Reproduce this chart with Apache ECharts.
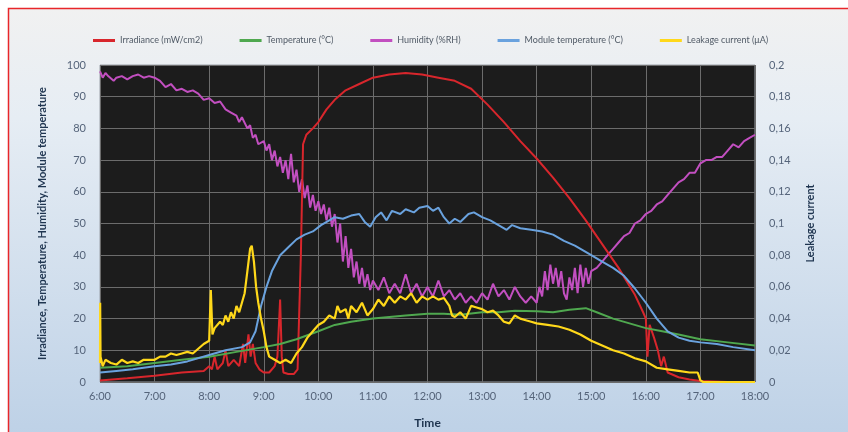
<!DOCTYPE html>
<html><head><meta charset="utf-8">
<script src="https://cdn.jsdelivr.net/npm/echarts@6/dist/echarts.min.js"></script>
<style>html,body{margin:0;padding:0;background:#fff}#c{width:848px;height:432px}</style>
</head><body><div id="c"></div>
<script>
// Time axis ticks (hours)
const hourTicks = [6,7,8,9,10,11,12,13,14,15,16,17,18];
const seriesNames = ['Irradiance (mW/cm2)','Temperature (°C)','Humidity (%RH)','Module temperature (°C)','Leakage current (μA)'];

// Irradiance
const irrT = [6.0,6.5,7.0,7.5,7.9,8.0,8.05,8.1,8.15,8.25,8.3,8.35,8.45,8.55,8.62,8.66,8.72,8.76,8.8,8.85,8.92,9.0,9.1,9.2,9.25,9.3,9.33,9.36,9.45,9.55,9.62,9.68,9.72,9.78,9.9,10.0,10.15,10.3,10.5,10.75,11.0,11.3,11.6,11.9,12.2,12.5,12.8,13.1,13.4,13.7,14.0,14.3,14.6,14.9,15.2,15.5,15.8,15.95,16.0,16.03,16.07,16.15,16.22,16.28,16.33,16.4,16.6,16.8,17.0,17.5,18.0];
const irrV = [0.5,1.2,2,3,3.5,5,4,8,4,6,10,5,7,5,12,6,15,8,12,6,4,3,3,5,8,26,8,3,2.5,2.5,4,40,75,78,80,82,86,89,92,94,96,97,97.5,97,96,95,92.5,87.5,82,76,70.5,64.5,58,51,43.5,36,27.5,22,20,8,18,14,10,5,8,3,1.5,0.8,0.3,0,0];

// Ambient temperature
const tempT = [6.0,6.5,7.0,7.5,8.0,8.5,9.0,9.3,9.6,10.0,10.3,10.6,11.0,11.3,11.6,12.0,12.3,12.6,13.0,13.3,13.6,14.0,14.3,14.6,14.9,15.1,15.4,15.7,16.0,16.3,16.6,17.0,17.5,18.0];
const tempV = [4.5,5,6,7,8,9.5,11,12,13.5,16,18,19,20,20.5,21,21.5,21.5,21.2,22,22,22.5,22.3,22,22.8,23.3,22,20,18.5,17,16,15,13.5,12.5,11.5];

// Humidity
const humT = [6.0,6.05,6.1,6.15,6.25,6.3,6.4,6.5,6.6,6.7,6.8,6.9,7.0,7.1,7.2,7.3,7.4,7.5,7.6,7.7,7.8,7.9,8.0,8.1,8.2,8.3,8.4,8.5,8.55,8.6,8.7,8.75,8.8,8.85,8.9,9.0,9.05,9.1,9.15,9.2,9.25,9.3,9.35,9.4,9.45,9.5,9.55,9.6,9.65,9.7,9.75,9.8,9.85,9.9,9.95,10.0,10.05,10.1,10.15,10.2,10.25,10.3,10.35,10.4,10.45,10.5,10.55,10.6,10.65,10.7,10.75,10.8,10.85,10.9,10.95,11.0,11.1,11.2,11.3,11.4,11.5,11.6,11.7,11.8,11.9,12.0,12.1,12.2,12.3,12.4,12.5,12.6,12.7,12.8,12.9,13.0,13.1,13.2,13.3,13.4,13.5,13.6,13.7,13.8,13.9,14.0,14.05,14.1,14.15,14.2,14.25,14.3,14.35,14.4,14.45,14.5,14.55,14.6,14.65,14.7,14.75,14.8,14.85,14.9,14.95,15.0,15.1,15.2,15.3,15.4,15.5,15.6,15.7,15.8,15.9,16.0,16.1,16.2,16.3,16.4,16.5,16.6,16.7,16.8,16.9,17.0,17.1,17.2,17.3,17.4,17.5,17.6,17.7,17.8,17.9,18.0];
const humV = [98,96,97.5,96.5,95,96,96.5,95.5,96.5,97,96,96.5,96,95,93,94,92,92.5,91.5,92,91,89,89.5,88,88.5,86,85,84,82,83.5,80,81,77,78,75,76,73,75,70,73,68,71,66,70,64,72,63,67,60,64,58,62,55,59,54,57,53,56,51,55,49,53,44,50,38,46,36,42,33,38,31,36,30,34,29,32,29,33,28,31,28,34,28,31,27,30,27,32,27,29,26,28,25,27,25,28,26,31,27,29,26,30,27,25,27,25,30,27,35,29,37,31,36,30,35,28,26,33,29,36,28,37,30,36,31,35,36,38,40,42,44,46,47,50,51,53,54,56,57,59,61,63,64,66,66,69,70,70,71,71,73,75,74,76,77,78];

// Module temperature
const modT = [6.0,6.3,6.6,7.0,7.3,7.6,8.0,8.3,8.6,8.75,8.85,8.95,9.05,9.15,9.3,9.45,9.6,9.75,9.9,10.05,10.2,10.3,10.45,10.6,10.75,10.85,10.95,11.05,11.15,11.25,11.35,11.5,11.6,11.75,11.85,12.0,12.1,12.2,12.3,12.4,12.5,12.6,12.75,12.85,13.0,13.15,13.3,13.45,13.55,13.7,13.9,14.1,14.3,14.5,14.7,14.85,15.0,15.2,15.4,15.6,15.8,16.0,16.2,16.4,16.6,16.8,17.0,17.3,17.6,18.0];
const modV = [3,3.5,4,5,5.5,6.5,8.5,10,11,12.5,16,24,30,35,40,42.5,45,46.5,47.5,49.5,51,52,51.5,52.5,53,50.5,49,52,53.5,51,54,53,54.5,53.5,55,55.5,54,55,52,50,51.5,50.5,53,53.5,52,51,49.5,48,49.5,48.5,48,47.5,46.5,44.5,43,41.5,40,38,36,33.5,29.5,25,20,16,14,13,12.5,12,11,10];

// Leakage current (right axis, μA)
const leakT = [6.0,6.003,6.01,6.05,6.1,6.2,6.3,6.4,6.5,6.6,6.7,6.8,6.9,7.0,7.1,7.2,7.3,7.4,7.5,7.6,7.7,7.8,7.9,8.0,8.03,8.06,8.1,8.2,8.25,8.3,8.35,8.4,8.45,8.5,8.55,8.6,8.65,8.7,8.75,8.78,8.82,8.86,8.9,8.95,9.0,9.05,9.1,9.2,9.3,9.4,9.5,9.6,9.7,9.8,9.9,10.0,10.1,10.2,10.3,10.35,10.4,10.5,10.55,10.6,10.7,10.8,10.9,11.0,11.1,11.2,11.3,11.4,11.5,11.6,11.7,11.8,11.9,12.0,12.1,12.2,12.3,12.4,12.45,12.5,12.6,12.7,12.8,12.9,13.0,13.1,13.2,13.3,13.4,13.5,13.6,13.7,13.8,13.9,14.0,14.2,14.4,14.6,14.8,15.0,15.2,15.4,15.6,15.8,16.0,16.2,16.4,16.6,16.8,16.95,17.0,17.05,18.0];
const leakV = [0.012,0.05,0.016,0.01,0.014,0.012,0.011,0.014,0.012,0.013,0.012,0.014,0.014,0.014,0.016,0.016,0.018,0.017,0.018,0.019,0.018,0.021,0.024,0.026,0.058,0.03,0.034,0.038,0.036,0.042,0.038,0.044,0.04,0.048,0.044,0.05,0.056,0.07,0.084,0.086,0.076,0.06,0.05,0.04,0.032,0.022,0.016,0.014,0.012,0.014,0.012,0.018,0.022,0.028,0.032,0.036,0.038,0.042,0.04,0.048,0.044,0.046,0.04,0.048,0.044,0.05,0.042,0.046,0.052,0.048,0.054,0.05,0.054,0.052,0.056,0.05,0.054,0.052,0.054,0.052,0.053,0.048,0.042,0.041,0.044,0.04,0.048,0.047,0.046,0.044,0.045,0.042,0.038,0.037,0.042,0.04,0.039,0.038,0.037,0.036,0.035,0.033,0.03,0.026,0.023,0.02,0.018,0.015,0.013,0.009,0.008,0.007,0.006,0.006,0.001,0,0];

const pair = (t, v) => t.map((x, i) => [x, v[i]]);
const colors = ['#d8262c','#4fa84f','#c24fc0','#6aa2de','#ffd81a'];
const font = 'Lato, "Open Sans", sans-serif';

const chart = echarts.init(document.getElementById('c'), null, {renderer: 'canvas'});
chart.setOption({
  backgroundColor: '#ffffff',
  animation: false,
  graphic: [{
    type: 'rect', z: -100, silent: true,
    shape: {x: 8.5, y: 8.5, width: 860, height: 440},
    style: {
      fill: new echarts.graphic.LinearGradient(0, 0, 0, 1, [
        {offset: 0, color: '#f1f1f1'},
        {offset: 0.25, color: '#e6edf4'},
        {offset: 1, color: '#bcd0e6'}
      ]),
      stroke: '#e8262a', lineWidth: 1.5
    }
  }],
  legend: {
    top: 31, left: 88,
    itemWidth: 22, itemHeight: 3, itemGap: 37,
    icon: 'rect',
    data: seriesNames,
    textStyle: {fontSize: 9, color: '#505a66', fontFamily: font}
  },
  grid: {left: 100, right: 93, top: 65, bottom: 50, show: true, outerBoundsMode: 'none', containLabel: false,
    backgroundColor: '#1c1c1c', borderColor: '#9aa0a8', borderWidth: 1},
  xAxis: {
    type: 'value', min: hourTicks[0], max: hourTicks[hourTicks.length-1], interval: 1,
    name: 'Time', nameLocation: 'middle', nameGap: 35,
    nameTextStyle: {fontSize: 12, fontWeight: 'bold', color: '#1f3550', fontFamily: font},
    axisLine: {show: false}, axisTick: {show: false},
    axisLabel: {formatter: v => v + ':00', color: '#55647a', fontSize: 11, margin: 9, fontFamily: font},
    splitLine: {show: true, lineStyle: {color: '#6c6c6c', width: 1}}
  },
  yAxis: [{
    type: 'value', min: 0, max: 100, interval: 10,
    name: 'Irradiance, Temperature, Humidity, Module temperature',
    nameLocation: 'middle', nameGap: 52,
    nameTextStyle: {fontSize: 11, fontWeight: 'bold', color: '#1f3550', fontFamily: font},
    axisLine: {show: false}, axisTick: {show: false},
    axisLabel: {color: '#55647a', fontSize: 11, margin: 14, fontFamily: font},
    splitLine: {show: true, lineStyle: {color: '#6c6c6c', width: 1}}
  }, {
    type: 'value', min: 0, max: 0.2, interval: 0.02,
    name: 'Leakage current', nameLocation: 'middle', nameGap: 50,
    nameTextStyle: {fontSize: 11, fontWeight: 'bold', color: '#1f3550', fontFamily: font},
    axisLine: {show: false}, axisTick: {show: false},
    axisLabel: {color: '#55647a', fontSize: 11, margin: 14, fontFamily: font,
      formatter: v => String(+v.toFixed(2)).replace('.', ',')},
    splitLine: {show: false}
  }],
  series: [
    {name: seriesNames[2], type: 'line', data: pair(humT, humV), yAxisIndex: 0, showSymbol: false, lineStyle: {width: 2, color: colors[2]}, itemStyle: {color: colors[2]}, z: 2},
    {name: seriesNames[0], type: 'line', data: pair(irrT, irrV), yAxisIndex: 0, showSymbol: false, lineStyle: {width: 2, color: colors[0]}, itemStyle: {color: colors[0]}, z: 3},
    {name: seriesNames[1], type: 'line', data: pair(tempT, tempV), yAxisIndex: 0, showSymbol: false, lineStyle: {width: 2, color: colors[1]}, itemStyle: {color: colors[1]}, z: 3},
    {name: seriesNames[3], type: 'line', data: pair(modT, modV), yAxisIndex: 0, showSymbol: false, lineStyle: {width: 2, color: colors[3]}, itemStyle: {color: colors[3]}, z: 4},
    {name: seriesNames[4], type: 'line', data: pair(leakT, leakV), yAxisIndex: 1, showSymbol: false, lineStyle: {width: 2.2, color: colors[4]}, itemStyle: {color: colors[4]}, z: 5}
  ]
});
</script></body></html>
